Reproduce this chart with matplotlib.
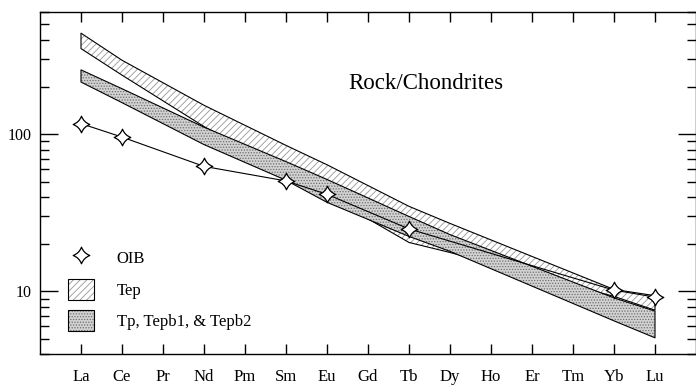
import numpy as np
import matplotlib.pyplot as plt
from matplotlib.path import Path
from matplotlib.patches import Patch
from matplotlib.lines import Line2D
from matplotlib.ticker import LogLocator, NullFormatter, FuncFormatter

plt.rcParams['font.family'] = ['Liberation Serif', 'DejaVu Serif']
plt.rcParams['hatch.linewidth'] = 0.6

elements = ['La', 'Ce', 'Pr', 'Nd', 'Pm', 'Sm', 'Eu', 'Gd', 'Tb', 'Dy',
            'Ho', 'Er', 'Tm', 'Yb', 'Lu']

# OIB, chondrite normalised
oib_elements = ['La', 'Ce', 'Nd', 'Sm', 'Eu', 'Tb', 'Yb', 'Lu']
oib_values = [117, 96, 62.5, 50.5, 41.5, 25, 10.2, 9.2]

# sample envelopes read at the analysed elements
band_elements = ['La', 'Ce', 'Nd', 'Sm', 'Eu', 'Tb', 'Dy', 'Yb', 'Lu']
tep_upper = [440, 296, 153, 85, 64, 34.8, 27.1, 10.3, 9.4]
tep_lower = [351, 238, 112, 58.5, 41, 20.5, 17.7, 9.3, 7.6]
tp_upper = [257, 195, 111, 67, 51.6, 30, 23, 9.1, 7.5]
tp_lower = [215, 159, 86, 51, 36.9, 22.4, 18, 6.5, 5.07]

pos = {e: i for i, e in enumerate(elements)}
xb = np.array([pos[e] for e in band_elements])
xo = np.array([pos[e] for e in oib_elements])

# 4-pointed star with concave sides
c = 0.27
star = Path(
    [(0, 1), (c, c), (1, 0), (c, -c), (0, -1), (-c, -c), (-1, 0), (-c, c), (0, 1), (0, 1)],
    [Path.MOVETO, Path.CURVE3, Path.CURVE3, Path.CURVE3, Path.CURVE3,
     Path.CURVE3, Path.CURVE3, Path.CURVE3, Path.CURVE3, Path.CLOSEPOLY])

tep_style = dict(facecolor='white', edgecolor='#969696', hatch='/////', linewidth=0)
tp_style = dict(facecolor='#d2d2d2', edgecolor='#6e6e6e', hatch='......', linewidth=0)
outline = dict(facecolor='none', edgecolor='black', linewidth=0.8)

fig = plt.figure(figsize=(6.96, 3.87), dpi=100)
ax = fig.add_axes([40 / 696, 1 - 354 / 387, 656 / 696, 342 / 387])

# Tep band underneath, Tp band on top
ax.fill_between(xb, tep_lower, tep_upper, zorder=1, **tep_style)
ax.fill_between(xb, tep_lower, tep_upper, zorder=1.5, **outline)
ax.fill_between(xb, tp_lower, tp_upper, zorder=2, **tp_style)
ax.fill_between(xb, tp_lower, tp_upper, zorder=2.5, **outline)

ax.plot(xo, oib_values, color='black', linewidth=0.8, marker=star, markersize=12,
        markerfacecolor='white', markeredgecolor='black', markeredgewidth=0.9, zorder=3)

ax.set_yscale('log')
ax.set_ylim(4, 600)
ax.set_xlim(-1, 15)
ax.set_xticks(range(len(elements)))
ax.set_xticklabels(elements)
ax.yaxis.set_major_locator(LogLocator(base=10))
ax.yaxis.set_minor_locator(LogLocator(base=10, subs=np.arange(2, 10)))
ax.yaxis.set_major_formatter(FuncFormatter(lambda v, p: f'{v:g}'))
ax.yaxis.set_minor_formatter(NullFormatter())

ax.tick_params(axis='x', which='major', direction='in', top=True, length=7,
               width=1, pad=11, labelsize=12)
ax.tick_params(axis='y', which='major', direction='in', right=True, length=13,
               width=1, pad=6, labelsize=11.5)
ax.tick_params(axis='y', which='minor', direction='in', right=True, length=6.5, width=1)
for s in ax.spines.values():
    s.set_linewidth(1.0)

ax.text(0.4695, 0.792, 'Rock/Chondrites', transform=ax.transAxes, fontsize=16.5,
        ha='left', va='center')

h_oib = Line2D([], [], linestyle='none', marker=star, markersize=12,
               markerfacecolor='white', markeredgecolor='black', markeredgewidth=0.9)
h_tep = (Patch(**tep_style), Patch(**outline))
h_tp = (Patch(**tp_style), Patch(**outline))
ax.legend([h_oib, h_tep, h_tp], ['OIB', 'Tep', 'Tp, Tepb1, & Tepb2'],
          loc='lower left', bbox_to_anchor=(0.042, 0.066), frameon=False,
          fontsize=12, handlelength=1.6, handleheight=1.6, handletextpad=1.35,
          labelspacing=0.6, borderpad=0, borderaxespad=0)

fig.savefig('out.png', dpi=100)
